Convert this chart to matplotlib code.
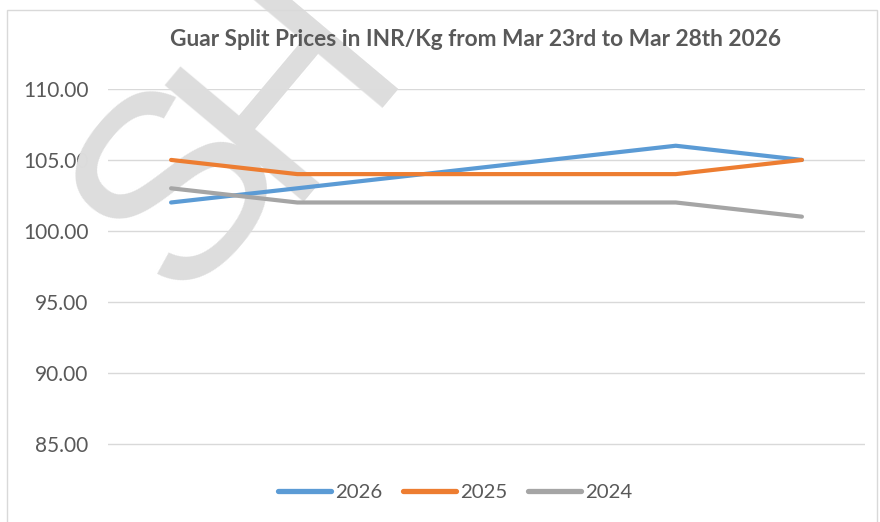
import matplotlib
matplotlib.use("Agg")
import matplotlib.pyplot as plt

plt.rcParams['font.family'] = ['Lato', 'DejaVu Sans']

days = ["Mar 23", "Mar 24", "Mar 25", "Mar 26", "Mar 27", "Mar 28"]
s2026 = [102, 103, 104, 105, 106, 105]
s2025 = [105, 104, 104, 104, 104, 105]
s2024 = [103, 102, 102, 102, 102, 101]
yticks = [85, 90, 95, 100, 105, 110]
title = "Guar Split Prices in INR/Kg from Mar 23rd to Mar 28th 2026"

fig = plt.figure(figsize=(8.8, 5.22), dpi=100)
fig.patch.set_facecolor('white')
# chart border
fig.add_artist(plt.Rectangle((7/880, -0.1), 870/880, 1.1 - 10/522, transform=fig.transFigure,
                             fill=False, edgecolor='#D9D9D9', linewidth=1))

ax = fig.add_axes([108/880, 1 - 472/522, 757/880, (472 - 89)/522])
x = list(range(len(days)))
ax.plot(x, s2026, color='#5B9BD5', lw=3.0, solid_capstyle='round', label='2026', zorder=3)
ax.plot(x, s2025, color='#ED7D31', lw=3.0, solid_capstyle='round', label='2025', zorder=3)
ax.plot(x, s2024, color='#A5A5A5', lw=3.0, solid_capstyle='round', label='2024', zorder=3)

ax.set_xlim(-0.5, len(days) - 0.5)
ax.set_ylim(83, 110)
ax.set_yticks(yticks)
ax.set_yticklabels([f"{v:.2f}" for v in yticks], color='#595959', fontsize=15)
ax.set_xticks([])
ax.tick_params(axis='y', length=0, pad=14)
ax.grid(axis='y', color='#D9D9D9', lw=1)
ax.set_axisbelow(True)
for sp in ax.spines.values():
    sp.set_visible(False)

fig.text(475/880, 1 - 40/522, title, ha='center', va='center', fontsize=16.3,
         fontweight='bold', color='#595959')

# watermark (letters placed individually)
for ch, (px, py) in [("S", (162, 172)), ("H", (270, 68))]:
    ax.text(px/880, 1 - py/522, ch, transform=fig.transFigure, fontsize=190,
            color='#DDDDDD', rotation=50, rotation_mode='anchor', ha='center',
            va='center_baseline', zorder=2, clip_on=False, family='Liberation Sans')

leg = fig.legend(loc='center', bbox_to_anchor=(455/880, 1 - 492/522), ncol=3, frameon=False,
                 fontsize=14.7, handlelength=2.6, columnspacing=1.0, handletextpad=0.2)
for t in leg.get_texts():
    t.set_color('#595959')
for h in leg.get_lines():
    h.set_linewidth(3.8)

fig.savefig("out.png", dpi=100)
